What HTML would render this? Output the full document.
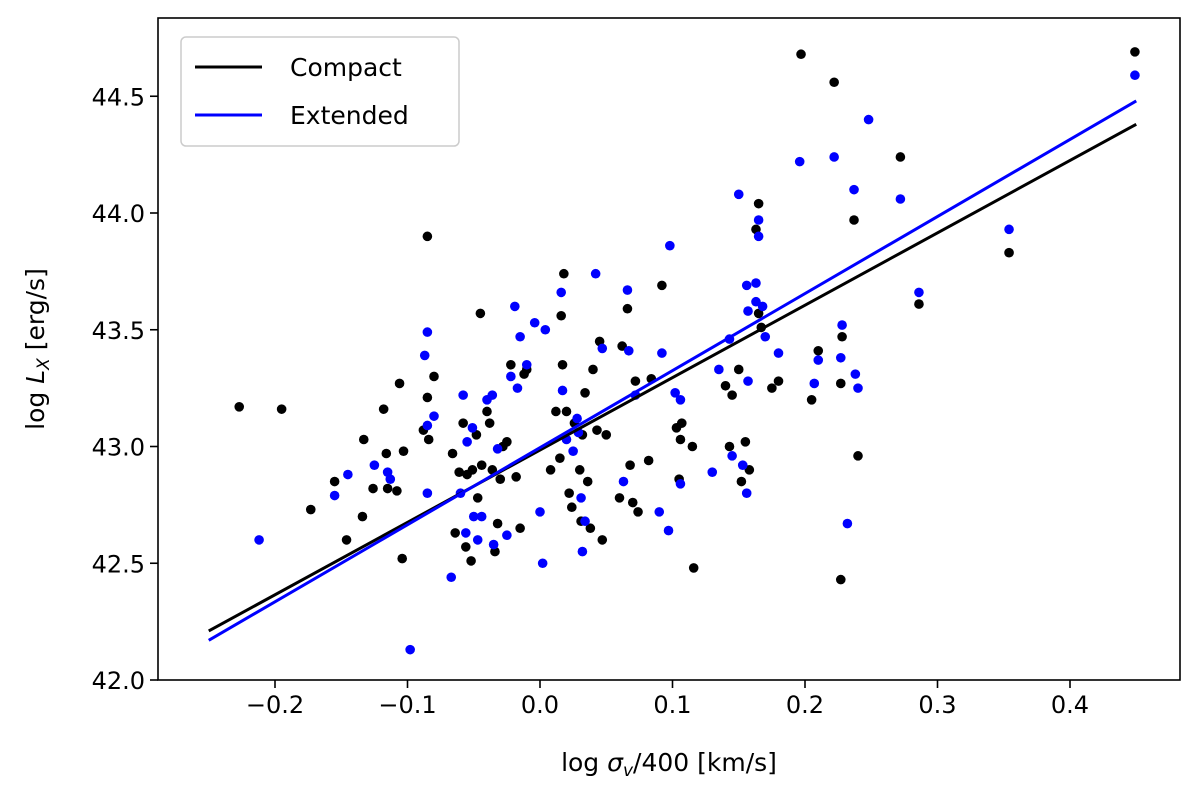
<!DOCTYPE html>
<html><head><meta charset="utf-8"><style>
html,body{margin:0;padding:0;background:#fff;}
svg{display:block;font-family:"DejaVu Sans","Liberation Sans",sans-serif;}
</style></head><body>
<svg id="chart" width="1200" height="803" viewBox="0 0 1200 803" xmlns="http://www.w3.org/2000/svg">
<rect x="0" y="0" width="1200" height="803" fill="#fff"/>
<g id="marks"></g>
<g id="axes"></g>
</svg>
<script>
const xTicks=[-0.2,-0.1,0.0,0.1,0.2,0.3,0.4];
const xTickLabels=["\u22120.2","\u22120.1","0.0","0.1","0.2","0.3","0.4"];
const yTicks=[42.0,42.5,43.0,43.5,44.0,44.5];
const yTickLabels=["42.0","42.5","43.0","43.5","44.0","44.5"];
const compactX=[-0.227,-0.195,-0.173,-0.155,-0.146,-0.133,-0.134,-0.126,-0.118,-0.116,-0.115,-0.108,-0.106,-0.104,-0.103,-0.085,-0.088,-0.085,-0.084,-0.080,-0.066,-0.064,-0.061,-0.058,-0.056,-0.055,-0.052,-0.051,-0.048,-0.047,-0.045,-0.044,-0.040,-0.038,-0.036,-0.034,-0.032,-0.030,-0.028,-0.025,-0.022,-0.018,-0.015,-0.012,-0.010,0.008,0.012,0.015,0.016,0.017,0.018,0.020,0.022,0.024,0.026,0.030,0.031,0.032,0.034,0.036,0.038,0.040,0.043,0.045,0.047,0.050,0.060,0.062,0.066,0.068,0.070,0.072,0.074,0.082,0.084,0.092,0.103,0.105,0.107,0.106,0.115,0.116,0.140,0.143,0.145,0.150,0.152,0.155,0.158,0.163,0.165,0.165,0.167,0.175,0.180,0.197,0.205,0.210,0.222,0.227,0.228,0.227,0.237,0.240,0.272,0.286,0.354,0.449];
const compactY=[43.17,43.16,42.73,42.85,42.60,43.03,42.70,42.82,43.16,42.97,42.82,42.81,43.27,42.52,42.98,43.90,43.07,43.21,43.03,43.30,42.97,42.63,42.89,43.10,42.57,42.88,42.51,42.90,43.05,42.78,43.57,42.92,43.15,43.10,42.90,42.55,42.67,42.86,43.00,43.02,43.35,42.87,42.65,43.31,43.33,42.90,43.15,42.95,43.56,43.35,43.74,43.15,42.80,42.74,43.10,42.90,42.68,43.05,43.23,42.85,42.65,43.33,43.07,43.45,42.60,43.05,42.78,43.43,43.59,42.92,42.76,43.28,42.72,42.94,43.29,43.69,43.08,42.86,43.10,43.03,43.00,42.48,43.26,43.00,43.22,43.33,42.85,43.02,42.90,43.93,44.04,43.57,43.51,43.25,43.28,44.68,43.20,43.41,44.56,43.27,43.47,42.43,43.97,42.96,44.24,43.61,43.83,44.69];
const extendedX=[-0.212,-0.155,-0.145,-0.125,-0.115,-0.113,-0.098,-0.087,-0.085,-0.085,-0.085,-0.080,-0.067,-0.060,-0.058,-0.056,-0.055,-0.051,-0.050,-0.047,-0.044,-0.040,-0.036,-0.035,-0.032,-0.025,-0.022,-0.019,-0.017,-0.015,-0.010,-0.004,0.000,0.002,0.004,0.016,0.017,0.020,0.025,0.028,0.029,0.031,0.032,0.034,0.042,0.047,0.063,0.066,0.067,0.072,0.090,0.092,0.097,0.098,0.102,0.106,0.106,0.130,0.135,0.143,0.145,0.150,0.153,0.156,0.156,0.157,0.157,0.163,0.163,0.165,0.165,0.168,0.170,0.180,0.196,0.207,0.210,0.222,0.227,0.228,0.232,0.237,0.238,0.240,0.248,0.272,0.286,0.354,0.449];
const extendedY=[42.60,42.79,42.88,42.92,42.89,42.86,42.13,43.39,43.49,43.09,42.80,43.13,42.44,42.80,43.22,42.63,43.02,43.08,42.70,42.60,42.70,43.20,43.22,42.58,42.99,42.62,43.30,43.60,43.25,43.47,43.35,43.53,42.72,42.50,43.50,43.66,43.24,43.03,42.98,43.12,43.06,42.78,42.55,42.68,43.74,43.42,42.85,43.67,43.41,43.22,42.72,43.40,42.64,43.86,43.23,42.84,43.20,42.89,43.33,43.46,42.96,44.08,42.92,43.69,42.80,43.58,43.28,43.70,43.62,43.97,43.90,43.60,43.47,43.40,44.22,43.27,43.37,44.24,43.38,43.52,42.67,44.10,43.31,43.25,44.40,44.06,43.66,43.93,44.59];
const fitRangeX=[-0.25,0.45];
const compactFitY=[42.21,44.38];
const extendedFitY=[42.17,44.48];

const L=158,R=1180,T=18,B=680;
const sx=v=>540+(v-0.0)*1325;
const sy=v=>680-(v-42.0)*233.5;
const NS="http://www.w3.org/2000/svg";
const marks=document.getElementById('marks'), axes=document.getElementById('axes');
function mk(tag,attrs,parent){const e=document.createElementNS(NS,tag);for(const k in attrs)e.setAttribute(k,attrs[k]);parent.appendChild(e);return e;}

compactX.forEach((x,i)=>{const c=mk('circle',{cx:sx(x),cy:sy(compactY[i]),r:4.8,fill:'#000'},marks);

});
extendedX.forEach((x,i)=>{const c=mk('circle',{cx:sx(x),cy:sy(extendedY[i]),r:4.8,fill:'#0000ff'},marks);

});
const l1=mk('line',{x1:sx(fitRangeX[0]),y1:sy(compactFitY[0]),x2:sx(fitRangeX[1]),y2:sy(compactFitY[1]),stroke:'#000','stroke-width':3},marks);


const l2=mk('line',{x1:sx(fitRangeX[0]),y1:sy(extendedFitY[0]),x2:sx(fitRangeX[1]),y2:sy(extendedFitY[1]),stroke:'#0000ff','stroke-width':3},marks);



const frame=mk('rect',{x:L,y:T,width:R-L,height:B-T,fill:'none',stroke:'#000','stroke-width':1.6},axes);


xTicks.forEach((v,i)=>{const x=sx(v);mk('line',{x1:x,y1:B,x2:x,y2:B+8,stroke:'#000','stroke-width':1.6},axes);
const t=mk('text',{x:x,y:B+33,'text-anchor':'middle','font-size':24,fill:'#000'},axes);t.textContent=xTickLabels[i];

});
yTicks.forEach((v,i)=>{const y=sy(v);mk('line',{x1:L-8,y1:y,x2:L,y2:y,stroke:'#000','stroke-width':1.6},axes);
const t=mk('text',{x:L-13,y:y+9,'text-anchor':'end','font-size':24,fill:'#000'},axes);t.textContent=yTickLabels[i];

});
</script>
<svg style="position:absolute;left:0;top:0" width="1200" height="803" xmlns="http://www.w3.org/2000/svg" font-family="DejaVu Sans, Liberation Sans, sans-serif">
<text x="669" y="771" text-anchor="middle" font-size="25">log <tspan font-style="italic">σ</tspan><tspan font-style="italic" font-size="17" dy="5">v</tspan><tspan dy="-5">/400 [km/s]</tspan></text>
<text transform="translate(44,349) rotate(-90)" text-anchor="middle" font-size="25">log <tspan font-style="italic">L</tspan><tspan font-style="italic" font-size="17" dy="5">X</tspan><tspan dy="-5"> [erg/s]</tspan></text>
<g>
<rect x="181" y="37" width="278" height="109" rx="5" fill="#fff" fill-opacity="0.8" stroke="#ccc" stroke-width="1.5"/>
<line x1="195" y1="67" x2="262" y2="67" stroke="#000" stroke-width="3"/>
<text x="290" y="76" font-size="25">Compact</text>
<line x1="195" y1="115" x2="262" y2="115" stroke="#0000ff" stroke-width="3"/>
<text x="290" y="124" font-size="25">Extended</text>
</g>
</svg>
</body></html>
